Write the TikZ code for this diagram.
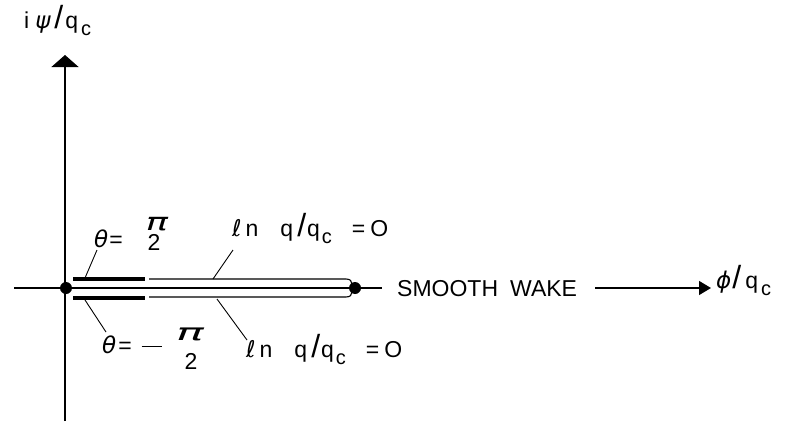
\documentclass[tikz,border=0pt]{standalone}
\usepackage{fontspec}
\usepackage{graphicx}
\setmainfont{Liberation Sans}
\newfontfamily\grk{DejaVu Sans}
\newcommand{\gth}{{\grk\itshape θ}}
\newcommand{\gpi}{{\grk\itshape π}}
\newcommand{\gpsi}{{\grk\itshape ψ}}
\newcommand{\gphi}{{\grk\itshape ϕ}}
\newcommand{\gell}{{\grk\itshape ℓ}}
\newcommand{\bigslash}{{\fontsize{32}{32}\selectfont /}}
\newcommand{\subc}{\raisebox{-7pt}{\fontsize{20}{20}\selectfont c}}
\newcommand{\lnlabel}{\gell\hspace{4pt}n\hspace{22pt}q\hspace{4pt}\bigslash\hspace{1pt}q\hspace{2pt}\subc\hspace{20pt}=\hspace{5pt}O}
\usetikzlibrary{arrows.meta}
\begin{document}
\begin{tikzpicture}[x=1pt,y=-1pt,
  lbl/.style={inner sep=0pt, font=\fontsize{23}{25}\selectfont},
  fracpart/.style={lbl, anchor=base, text height=14pt, text depth=0pt},
  axisline/.style={line width=1.2pt},
  slitthick/.style={line width=3.2pt},
  slitthin/.style={line width=1.1pt},
  leader/.style={line width=0.9pt},
  dotn/.style={circle, fill, inner sep=0pt, minimum size=12pt}]
\useasboundingbox (0,0) rectangle (785,431);
% vertical axis
\coordinate (vb) at (65,421);
\coordinate (vt) at (65,55);
\draw[axisline,-{Triangle[length=12pt,width=27pt]}] (vb) -- (vt);
\node[lbl, anchor=base west] (psi) at (24,28) {i\hspace{6pt}\gpsi\hspace{4pt}\bigslash\hspace{2pt}q\hspace{3pt}\subc};
% horizontal axis
\coordinate (hl) at (14,288);
\coordinate (hr) at (382,288);
\draw[axisline] (hl) -- (hr);
\node[dotn] (o) at (66,288) {};
\node[dotn] (e) at (355,288) {};
\node[lbl, anchor=base west] (sw) at (397,296) {SMOOTH\hspace{12pt}WAKE};
\coordinate (as) at (595,288);
\coordinate (ae) at (711,288);
\draw[axisline,-{Triangle[length=12pt,width=14pt]}] (as) -- (ae);
\node[lbl, anchor=base west] (phi) at (716,288) {\gphi\hspace{1pt}\bigslash\hspace{4pt}q\hspace{3pt}\subc};
% slits
\coordinate (u1) at (73,279); \coordinate (u2) at (145,279);
\coordinate (l1) at (73,298); \coordinate (l2) at (145,298);
\draw[slitthick] (u1) -- (u2);
\draw[slitthick] (l1) -- (l2);
\coordinate (u3) at (149,279); \coordinate (u4) at (346,279); \coordinate (u5) at (352,284);
\coordinate (l3) at (149,297); \coordinate (l4) at (346,297); \coordinate (l5) at (352,292);
\draw[slitthin] (u3) -- (u4) .. controls (350,279) and (352,281) .. (u5);
\draw[slitthin] (l3) -- (l4) .. controls (350,297) and (352,295) .. (l5);
% labels
\node[lbl, anchor=base west] (t1) at (94,247) {\gth\hspace{1pt}=};
\node[fracpart] (t1n) at (157,230) {\scalebox{1.6}[1.05]{\gpi}};
\node[fracpart, text height=16pt] (t1d) at (154,250) {2};
\node[lbl, anchor=base west] (t2) at (102,353) {\gth\hspace{2pt}=\hspace{10pt}\rule[6pt]{20pt}{1.3pt}};
\node[fracpart] (t2n) at (190,340) {\scalebox{2}[1.0]{\gpi}};
\node[fracpart, text height=16pt] (t2d) at (191,369) {2};
\node[lbl, anchor=base west] (ln1) at (232,236) {\lnlabel};
\node[lbl, anchor=base west] (ln2) at (246,357) {\lnlabel};
% leaders
\coordinate (a1) at (97,250); \coordinate (a2) at (85,278);
\coordinate (b1) at (85,300); \coordinate (b2) at (106,332);
\coordinate (c1) at (233,250); \coordinate (c2) at (213,279);
\coordinate (d1) at (217,299); \coordinate (d2) at (247,340);
\draw[leader] (a1) -- (a2);
\draw[leader] (b1) -- (b2);
\draw[leader] (c1) -- (c2);
\draw[leader] (d1) -- (d2);
\end{tikzpicture}
\end{document}
